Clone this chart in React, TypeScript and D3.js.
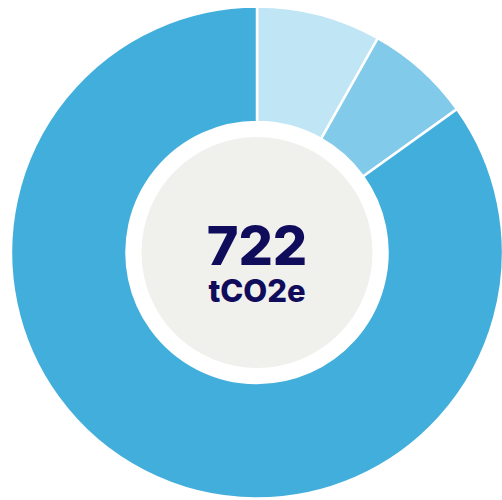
import React from "react";
import * as d3 from "d3";

const categories = ["A", "B", "C"];
const values = [59, 50, 613];
const colors = ["#c0e5f4", "#82cae9", "#42aedb"];
const totalLabel = "722";
const unitLabel = "tCO2e";

export default function App() {
  const width = 502;
  const height = 500;
  const cx = 257;
  const cy = 252.5;
  const outerR = 246;
  const innerR = 130.5;
  const centerR = 115.5;

  const pie = d3.pie<number>().value((d) => d).sort(null);
  const arcs = pie(values);
  const arc = d3.arc<d3.PieArcDatum<number>>().innerRadius(innerR).outerRadius(outerR);

  return (
    <svg
      width={width}
      height={height}
      style={{ position: "absolute", left: 0, top: 0, background: "#fff" }}
    >
      <g transform={`translate(${cx},${cy})`}>
        {arcs.map((a, i) => (
          <path
            key={categories[i]}
            d={arc(a) || ""}
            fill={colors[i]}
            stroke="#ffffff"
            strokeWidth={2.5}
          />
        ))}
        <circle r={centerR} fill="#f0f0ed" />
        <text
          textAnchor="middle"
          fontFamily="Inter, 'Noto Sans', sans-serif"
          fontWeight={800}
          fill="#100c5c"
        >
          <tspan x={0} y={12} fontSize={54}>
            {totalLabel}
          </tspan>
          <tspan x={0} y={49} fontSize={31}>
            {unitLabel}
          </tspan>
        </text>
      </g>
    </svg>
  );
}
